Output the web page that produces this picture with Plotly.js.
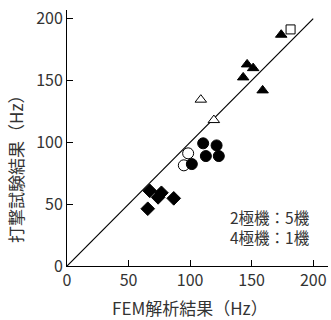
<!DOCTYPE html>
<html>
<head>
<meta charset="utf-8">
<script src="https://cdn.plot.ly/plotly-3.0.1.min.js"></script>
<style>html,body{margin:0;padding:0;background:#fff;}#chart{width:331px;height:320px;}</style>
</head>
<body>
<div id="chart"></div>
<script>
// FEM analysis (x) vs. hammering test (y), Hz
const diamondX = [67.2, 76.7, 74.0, 86.7, 65.6];
const diamondY = [60.8, 59.2, 55.5, 54.7, 46.3];
const openCircleX = [98.4, 94.9];
const openCircleY = [91.1, 81.4];
const filledCircleX = [110.6, 121.5, 112.8, 123.3, 101.4];
const filledCircleY = [99.2, 97.5, 88.9, 88.9, 82.4];
const openTriangleX = [108.7, 119.3];
const openTriangleY = [134.5, 118.0];
const filledTriangleX = [174.0, 146.3, 151.2, 143.1, 158.9];
const filledTriangleY = [187.0, 163.0, 160.0, 152.5, 142.0];
const squareX = [181.6];
const squareY = [191.3];
const refLineX = [0, 200];
const refLineY = [0, 200];
const tickVals = [0, 50, 100, 150, 200];
const xTitle = 'FEM解析結果（Hz）';
const yTitle = '打撃試験結果（Hz）';
const noteLines = ['2極機：5機', '4極機：1機'];

const FONT = '"Noto Sans CJK JP", "Noto Sans", sans-serif';
const TXT = '#333333';

function pts(x, y, symbol, size, fill) {
  return {
    x: x, y: y, type: 'scatter', mode: 'markers', showlegend: false, hoverinfo: 'skip',
    marker: {symbol: symbol, size: size, color: fill, line: {color: '#000', width: 1}}
  };
}

const data = [
  {x: refLineX, y: refLineY, type: 'scatter', mode: 'lines', showlegend: false,
   line: {color: '#000', width: 1.2}, hoverinfo: 'skip'},
  pts(diamondX, diamondY, 'diamond', 10.5, '#000'),
  pts(openCircleX, openCircleY, 'circle', 11, '#fff'),
  pts(filledCircleX, filledCircleY, 'circle', 11, '#000'),
  pts(openTriangleX, openTriangleY, 'triangle-up', 10, '#fff'),
  pts(filledTriangleX, filledTriangleY, 'triangle-up', 10, '#000'),
  pts(squareX, squareY, 'square', 9, '#fff')
];

const axisCommon = {
  tickvals: tickVals, ticks: 'inside', ticklen: 6, tickwidth: 1, tickcolor: '#000',
  showline: true, linecolor: '#000', linewidth: 1, showgrid: false, zeroline: false,
  tickfont: {family: FONT, size: 16, color: TXT}, fixedrange: true
};

const noteFont = {family: FONT, size: 15.5, color: TXT};

const layout = {
  width: 331, height: 320,
  margin: {l: 67, r: 3, t: 10, b: 54},
  paper_bgcolor: '#fff', plot_bgcolor: '#fff',
  font: {family: FONT, color: TXT},
  xaxis: Object.assign({}, axisCommon, {range: [0, 212]}),
  yaxis: Object.assign({}, axisCommon, {range: [0, 207]}),
  annotations: [
    {text: xTitle, xref: 'paper', yref: 'paper', x: 0.471, y: -0.164,
     xanchor: 'center', yanchor: 'middle', showarrow: false,
     font: {family: FONT, size: 17, color: TXT}},
    {text: yTitle, textangle: -90, xref: 'paper', yref: 'paper', x: -0.195, y: 0.395,
     xanchor: 'center', yanchor: 'middle', showarrow: false,
     font: {family: FONT, size: 17, color: TXT}},
    {text: noteLines[0], xref: 'x', yref: 'y', x: 199, y: 40,
     xanchor: 'right', yanchor: 'middle', showarrow: false, font: noteFont},
    {text: noteLines[1], xref: 'x', yref: 'y', x: 199, y: 23.5,
     xanchor: 'right', yanchor: 'middle', showarrow: false, font: noteFont}
  ]
};

Plotly.newPlot('chart', data, layout, {displayModeBar: false, staticPlot: true});
</script>
</body>
</html>
